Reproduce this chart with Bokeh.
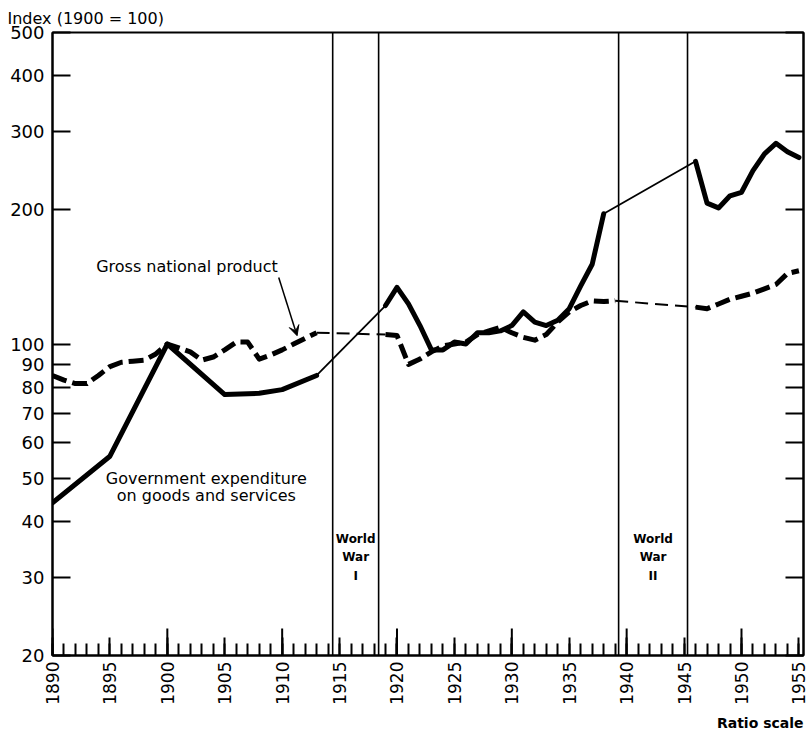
import math
from bokeh.plotting import figure
from bokeh.models import (Range1d, FixedTicker, Span, Label, Arrow, VeeHead, LogAxis,
                          Title, NumeralTickFormatter)
from bokeh.embed import file_html
from bokeh.resources import INLINE

# ---------------- data ----------------
gov_years_1 = [1890, 1895, 1900, 1905, 1908, 1910, 1913]
gov_vals_1 = [44, 56, 100, 77, 77.5, 79, 85]
gov_years_2 = list(range(1919, 1939))
gov_vals_2 = [122, 134, 123, 110, 97, 97, 101, 100, 106, 106,
              107, 110, 118, 112, 110, 113, 120, 135, 151, 196]
gov_years_3 = list(range(1946, 1956))
gov_vals_3 = [257, 207, 202, 215, 219, 245, 267, 282, 270, 262]

gnp_years_1 = list(range(1890, 1914))
gnp_vals_1 = [85, 83, 81.5, 81.5, 85, 89, 91, 91.5, 92, 95,
              100, 98, 96, 92, 93.5, 97, 101, 101, 92.5, 94.5,
              97, 100, 103, 106]
gnp_years_2 = list(range(1919, 1940))
gnp_vals_2 = [105, 104.5, 90, 92.5, 96, 99, 100, 101, 105, 107,
              109, 106, 103.5, 102, 105, 112, 118, 122, 125, 124.5, 125]
gnp_years_3 = list(range(1946, 1956))
gnp_vals_3 = [121, 120, 123, 126, 128, 130, 133, 136, 144, 146]

war_bounds = [1914.4, 1918.4, 1939.3, 1945.3]
war_names = ["World\nWar\nI", "World\nWar\nII"]

year_labels = list(range(1890, 1956, 5))
decade_ticks = list(range(1890, 1956, 10))
all_years = list(range(1890, 1956))
y_ticks = [20, 30, 40, 50, 60, 70, 80, 90, 100, 200, 300, 400, 500]
x_start, x_end = 1890, 1955.4

FONT = "DejaVu Sans"

# ---------------- figure ----------------
p = figure(width=811, height=735, x_range=Range1d(x_start, x_end), y_range=Range1d(20, 500),
           y_axis_type="log", output_backend="svg", toolbar_location=None,
           min_border_left=52, min_border_right=8, min_border_top=32, min_border_bottom=80)
p.grid.visible = False
p.outline_line_color = "black"
p.outline_line_width = 2
p.background_fill_color = "white"

# title
p.title.text = "Index (1900 = 100)"
p.title.align = "left"
p.title.text_font = FONT
p.title.text_font_size = "16px"
p.title.text_font_style = "normal"
p.title.text_color = "black"
p.title.offset = -45
p.title.standoff = 9

# x axis
xa = p.xaxis[0]
xa.ticker = FixedTicker(ticks=year_labels, minor_ticks=all_years)
xa.major_tick_in = 18
xa.major_tick_out = 0
xa.minor_tick_in = 12
xa.minor_tick_out = 0
xa.major_tick_line_width = 2
xa.minor_tick_line_width = 2
xa.axis_line_width = 2
xa.major_label_orientation = math.pi / 2
xa.major_label_text_font = FONT
xa.major_label_text_font_size = "17px"
xa.major_label_text_color = "black"
xa.major_label_standoff = 6

# left y axis
ya = p.yaxis[0]
ya.ticker = FixedTicker(ticks=y_ticks, minor_ticks=[])
ya.formatter = NumeralTickFormatter(format="0")
ya.major_tick_in = 18
ya.major_tick_out = 0
ya.major_tick_line_width = 2
ya.axis_line_width = 2
ya.major_label_text_font = FONT
ya.major_label_text_font_size = "18px"
ya.major_label_text_color = "black"
ya.major_label_standoff = 8

# right y axis: ticks only, labels not drawn
ra = LogAxis(ticker=FixedTicker(ticks=y_ticks, minor_ticks=[]), major_tick_in=18,
             major_tick_out=0, major_tick_line_width=2, axis_line_width=2,
             major_label_text_color=None, major_label_text_font_size="1px",
             major_label_standoff=0)
p.add_layout(ra, "right")

# decade ticks (taller)
p.ray(x=decade_ticks, y=[y_ticks[0] * 1.0001] * len(decade_ticks), length=27,
      length_units="screen", angle=math.pi / 2, line_width=2, line_color="black")

# war lines
for wb in war_bounds:
    p.add_layout(Span(location=wb, dimension="height", line_color="black", line_width=1.6))

# series: government expenditure
for xs, ys in [(gov_years_1, gov_vals_1), (gov_years_2, gov_vals_2), (gov_years_3, gov_vals_3)]:
    p.line(xs, ys, line_width=5, line_color="black", line_join="round", line_cap="round")
for (xa_, ya_), (xb_, yb_) in [((gov_years_1, gov_vals_1), (gov_years_2, gov_vals_2)),
                               ((gov_years_2, gov_vals_2), (gov_years_3, gov_vals_3))]:
    p.line([xa_[-1], xb_[0]], [ya_[-1], yb_[0]], line_width=1.8, line_color="black")

# series: GNP
for xs, ys in [(gnp_years_1, gnp_vals_1), (gnp_years_2, gnp_vals_2), (gnp_years_3, gnp_vals_3)]:
    p.line(xs, ys, line_width=5, line_color="black", line_dash="15 6", line_join="round")
for (xa_, ya_), (xb_, yb_) in [((gnp_years_1, gnp_vals_1), (gnp_years_2, gnp_vals_2)),
                               ((gnp_years_2, gnp_vals_2), (gnp_years_3, gnp_vals_3))]:
    p.line([xa_[-1], xb_[0]], [ya_[-1], yb_[0]], line_width=2, line_color="black", line_dash="13 7")

# annotations
p.add_layout(Label(x=1893.8, y=149, text="Gross national product", text_font=FONT,
                   text_font_size="16px", text_baseline="middle", text_align="left",
                   text_color="black"))
p.add_layout(Arrow(end=VeeHead(size=10, fill_color="black", line_color="black", line_width=1),
                   x_start=1909.7, y_start=141, x_end=1911.3, y_end=104.4,
                   line_width=1.5, line_color="black"))
p.add_layout(Label(x=1903.4, y=49.9, text="Government expenditure", text_font=FONT,
                   text_font_size="16px", text_baseline="middle", text_align="center",
                   text_color="black"))
p.add_layout(Label(x=1903.4, y=45.7, text="on goods and services", text_font=FONT,
                   text_font_size="16px", text_baseline="middle", text_align="center",
                   text_color="black"))
for i, name in enumerate(war_names):
    mid = (war_bounds[2 * i] + war_bounds[2 * i + 1]) / 2
    p.add_layout(Label(x=mid, y=33.2, text=name, text_font=FONT, text_font_size="12px",
                       text_font_style="bold", text_align="center", text_baseline="middle",
                       text_line_height=1.35, text_color="black"))

# "Ratio scale"
p.add_layout(Title(text="Ratio scale", align="right", text_font=FONT, text_font_size="14px",
                   text_font_style="bold", text_color="black"), "below")

open("out.html", "w").write(file_html(p, INLINE))
